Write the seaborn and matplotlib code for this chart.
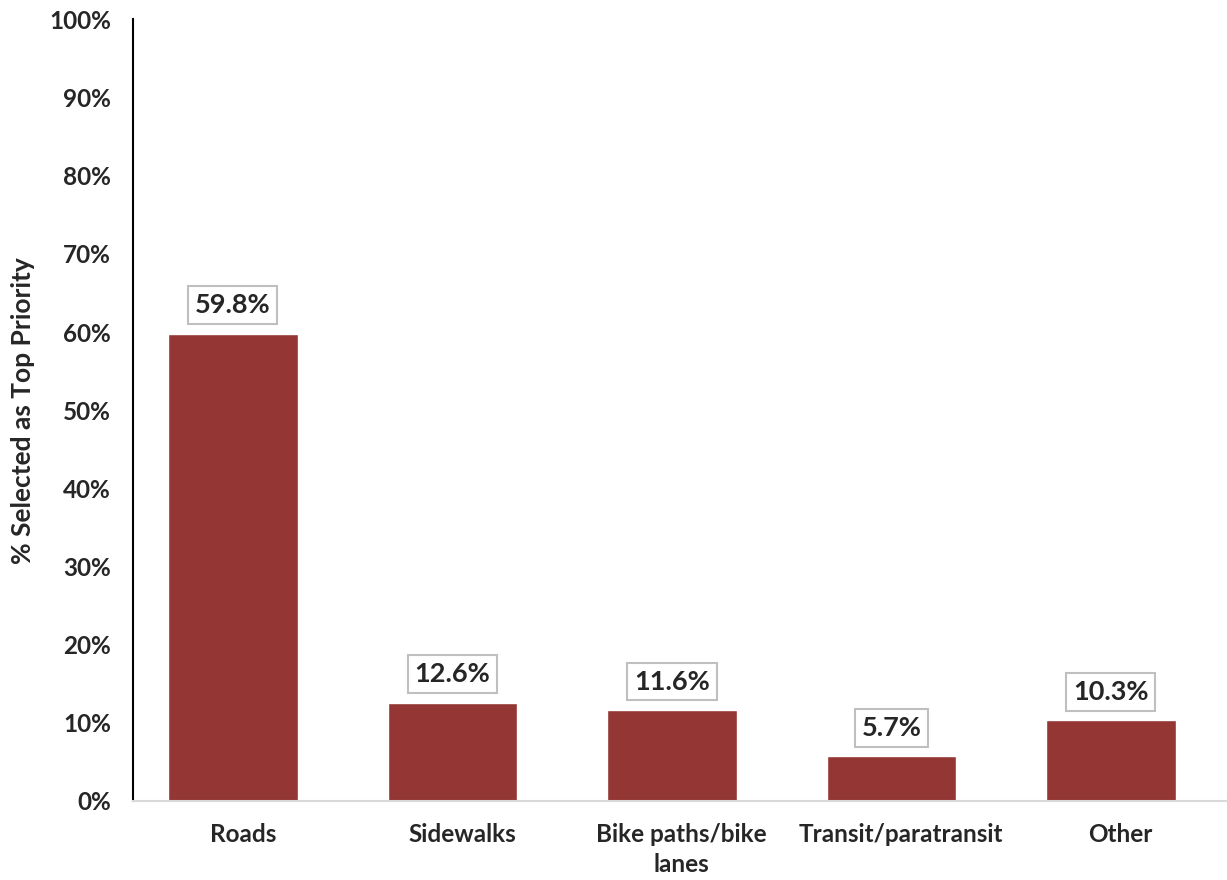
import pandas as pd
import matplotlib.pyplot as plt
import seaborn as sns
from matplotlib.ticker import PercentFormatter

categories = ["Roads", "Sidewalks", "Bike paths/bike\nlanes", "Transit/paratransit", "Other"]
values = [59.8, 12.6, 11.6, 5.7, 10.3]

df = pd.DataFrame({"category": categories, "pct": values})

sns.set_style("white")
plt.rcParams['font.family'] = ['Lato', 'DejaVu Sans']
plt.rcParams['font.weight'] = 'bold'

fig = plt.figure(figsize=(12.27, 8.8), dpi=100)
ax = fig.add_axes([0.1084, 0.0898, 0.8945, 0.8881])

sns.barplot(data=df, x="category", y="pct", color="#943634", width=0.59,
            saturation=1, ax=ax)

# bars sit slightly left of the category centre, like the original
shift = -0.045
for p in ax.patches:
    p.set_x(p.get_x() + shift)

ax.set_ylim(0, 100)
ax.set_xlim(-0.5, len(categories) - 0.5)
ax.set_yticks(range(0, 101, 10))
ax.yaxis.set_major_formatter(PercentFormatter(decimals=0))

# category boundaries as minor ticks on the x axis
ax.set_xticks([i - 0.5 for i in range(len(categories) + 1)], minor=True)
ax.tick_params(axis='x', which='major', length=0, pad=16, labelsize=17.5)
ax.tick_params(axis='x', which='minor', length=8, width=1.5, color='#d9d9d9', direction='out')
ax.tick_params(axis='y', length=7, width=1.5, color='black', direction='out', labelsize=17.5, pad=9)
for lab in ax.get_xticklabels() + ax.get_yticklabels():
    lab.set_fontweight('bold')
for lab in ax.get_xticklabels():
    lab.set_linespacing(1.35)

sns.despine(ax=ax, top=True, right=True)
ax.spines['left'].set_color('black')
ax.spines['left'].set_linewidth(1.5)
ax.spines['bottom'].set_color('#d9d9d9')
ax.spines['bottom'].set_linewidth(1.5)

ax.set_xlabel("")
ax.set_ylabel("% Selected as Top Priority", fontsize=19, fontweight='bold', labelpad=10)

for i, v in enumerate(values):
    ax.annotate(f"{v:.1f}%", xy=(i + shift, v), xytext=(0, 12), textcoords='offset points',
                ha='center', va='bottom', fontsize=19.5, fontweight='bold',
                bbox=dict(boxstyle='square,pad=0.25', facecolor='white',
                          edgecolor='#bfbfbf', linewidth=1.5))

fig.savefig("out.png", dpi=100)
